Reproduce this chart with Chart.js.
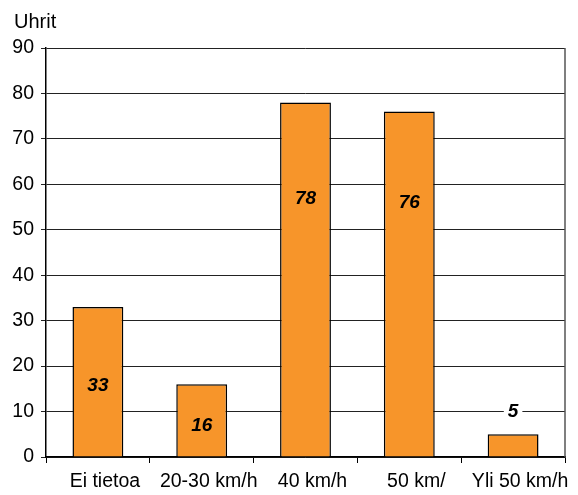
<!DOCTYPE html>
<html>
<head>
<meta charset="utf-8">
<script src="https://cdn.jsdelivr.net/npm/chart.js@4/dist/chart.umd.min.js"></script>
<style>
  body { margin: 0; background: #fff; }
  #wrap { width: 578px; height: 495px; }
</style>
</head>
<body>
<div id="wrap"><canvas id="BarChart"></canvas></div>
<script>
const categories = ["Ei tietoa", "20-30 km/h", "40 km/h", "50 km/", "Yli 50 km/h"];
const victims = [33, 16, 78, 76, 5];
// where each value label sits, in axis units
const labelAt = [15.6, 6.8, 56.8, 56, 10];

const FONT = "'Liberation Sans', Arial, sans-serif";

const valueLabels = {
  id: "valueLabels",
  afterDatasetsDraw(chart) {
    const ctx = chart.ctx;
    const meta = chart.getDatasetMeta(0);
    const y = chart.scales.y;
    const area = chart.chartArea;
    ctx.save();
    // right frame line
    ctx.strokeStyle = "#555";
    ctx.lineWidth = 1.5;
    ctx.beginPath();
    ctx.moveTo(area.right, area.top);
    ctx.lineTo(area.right, area.bottom);
    ctx.stroke();

    ctx.font = "italic bold 19px " + FONT;
    ctx.textAlign = "center";
    ctx.textBaseline = "middle";
    meta.data.forEach((bar, i) => {
      const text = String(victims[i]);
      const py = y.getPixelForValue(labelAt[i]);
      if (labelAt[i] > victims[i]) {
        const w = ctx.measureText(text).width + 8;
        ctx.fillStyle = "#fff";
        ctx.fillRect(bar.x - w / 2, py - 10, w, 20);
      }
      ctx.fillStyle = "#000";
      ctx.fillText(text, bar.x, py);
    });
    ctx.restore();
  },
};

const axisTitle = {
  id: "axisTitle",
  afterDraw(chart) {
    const ctx = chart.ctx;
    ctx.save();
    ctx.font = "20px " + FONT;
    ctx.fillStyle = "#000";
    ctx.textBaseline = "middle";
    ctx.fillText("Uhrit", 14, 22);
    ctx.restore();
  },
};

const ctx = document.getElementById("BarChart").getContext("2d");

new Chart(ctx, {
  type: "bar",
  data: {
    labels: categories,
    datasets: [
      {
        data: victims,
        backgroundColor: "#F7952A",
        borderColor: "#000",
        borderWidth: 1.5,
        barPercentage: 0.49,
        categoryPercentage: 1,
      },
    ],
  },
  options: {
    responsive: true,
    maintainAspectRatio: false,
    animation: false,
    layout: { padding: { top: 48, right: 13, left: 0, bottom: 0 } },
    plugins: {
      legend: { display: false },
      tooltip: { enabled: false },
    },
    scales: {
      x: {
        grid: {
          drawOnChartArea: false,
          color: "#000",
          tickLength: 6,
        },
        border: { color: "#000", width: 1.5 },
        ticks: {
          color: "#000",
          font: { family: FONT, size: 19.5 },
          padding: 7,
          labelOffset: 7,
          maxRotation: 0,
          autoSkip: false,
        },
        afterFit(scale) { scale.height = 38; },
      },
      y: {
        min: 0,
        max: 90,
        grid: {
          color: "#222",
          lineWidth: 1,
          tickLength: 5,
        },
        border: { color: "#000", width: 1.5 },
        ticks: {
          stepSize: 10,
          color: "#000",
          font: { family: FONT, size: 19.5 },
          padding: 7,
        },
        afterFit(scale) { scale.width = 46; },
      },
    },
  },
  plugins: [valueLabels, axisTitle],
});
</script>
</body>
</html>
